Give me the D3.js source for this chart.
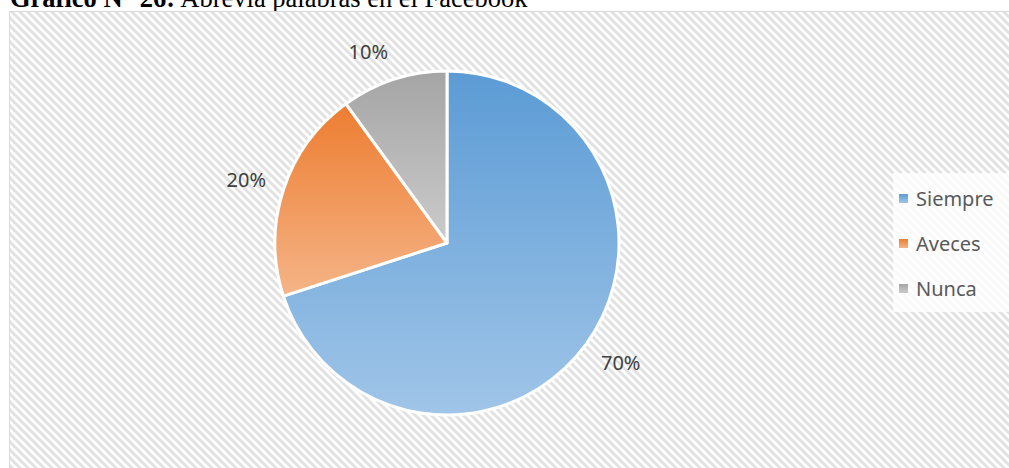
<!DOCTYPE html>
<html>
<head>
<meta charset="utf-8">
<script src="https://cdn.jsdelivr.net/npm/d3@7"></script>
<style>
  html, body { margin: 0; padding: 0; background: #fff; overflow: hidden; }
  svg { display: block; }
</style>
</head>
<body>
<svg width="1009" height="468"></svg>
<script>
// data
const categories = ["Siempre", "Aveces", "Nunca"]
const values = [70, 20, 10]
const labels = ["70%", "20%", "10%"]
const colorTop = ["#5b9bd5", "#ed7d31", "#a5a5a5"]
const colorBottom = ["#a0c5e8", "#f5b487", "#cbcbcb"]

const svg = d3.select("svg"),
    width = +svg.attr("width"),
    height = +svg.attr("height")

const defs = svg.append("defs")

// hatched chart background
const pat = defs.append("pattern")
    .attr("id", "hatch")
    .attr("patternUnits", "userSpaceOnUse")
    .attr("width", 8)
    .attr("height", 8)
pat.append("rect").attr("width", 8).attr("height", 8).attr("fill", "#fff")
pat.append("path")
    .attr("d", "M0,0 L8,8 M-2,6 L2,10 M6,-2 L10,2")
    .attr("stroke", "#e2e2e2")
    .attr("stroke-width", 3)

categories.forEach((c, i) => {
  const g = defs.append("linearGradient")
      .attr("id", "grad" + i)
      .attr("x1", 0).attr("y1", 0).attr("x2", 0).attr("y2", 1)
  g.append("stop").attr("offset", "0%").attr("stop-color", colorTop[i])
  g.append("stop").attr("offset", "100%").attr("stop-color", colorBottom[i])
})

// title, cut off at the top like in the source page
const title = svg.append("text")
    .attr("x", 10)
    .attr("y", 7)
    .attr("font-family", "Liberation Serif, Times New Roman, serif")
    .attr("font-size", 26.5)
    .attr("fill", "#000")
title.append("tspan").attr("font-weight", "bold").text("Gráfico N° 26:")
title.append("tspan").text(" Abrevia palabras en el Facebook")

// chart area
svg.append("rect")
    .attr("x", 9.5)
    .attr("y", 11.5)
    .attr("width", width + 10)
    .attr("height", height + 10)
    .attr("fill", "url(#hatch)")
    .attr("stroke", "#d9d9d9")
    .attr("stroke-width", 1)

const cx = 447, cy = 243, radius = 172

const pie = d3.pie().sort(null).value(d => d)
const arcs = pie(values)
const arc = d3.arc().innerRadius(0).outerRadius(radius)

const g = svg.append("g").attr("transform", "translate(" + cx + "," + cy + ")")

g.selectAll(".slice")
    .data(arcs)
    .enter()
    .append("path")
    .attr("class", "slice")
    .attr("d", arc)
    .attr("fill", (d, i) => "url(#grad" + i + ")")
    .attr("stroke", "#fff")
    .attr("stroke-width", 3)
    .attr("stroke-linejoin", "round")

// labels placed outside, box pushed away from the pie edge
const labelArc = d3.arc().innerRadius(radius + 18).outerRadius(radius + 18)
const clamp = v => Math.max(-1, Math.min(1, v))
const lw = 40, lh = 20

g.selectAll(".lbl")
    .data(arcs)
    .enter()
    .append("text")
    .attr("class", "lbl")
    .attr("x", d => {
      const a = (d.startAngle + d.endAngle) / 2
      return labelArc.centroid(d)[0] + lw / 2 * clamp(Math.sin(a) * 4)
    })
    .attr("y", d => {
      const a = (d.startAngle + d.endAngle) / 2
      return labelArc.centroid(d)[1] + lh / 2 * clamp(-Math.cos(a) * 1.5)
    })
    .attr("dy", "0.35em")
    .attr("text-anchor", "middle")
    .attr("font-family", "Noto Sans, Open Sans, sans-serif")
    .attr("font-size", 20)
    .attr("fill", "#404040")
    .text((d, i) => labels[i])

// legend
svg.append("rect")
    .attr("x", 893)
    .attr("y", 173)
    .attr("width", 120)
    .attr("height", 139)
    .attr("fill", "#fff")
    .attr("fill-opacity", 0.8)

const legend = svg.append("g")
const ly = d3.scalePoint().domain(categories).range([206, 296])

const item = legend.selectAll(".item")
    .data(categories)
    .enter()
    .append("g")
    .attr("class", "item")
    .attr("transform", d => "translate(0," + ly(d) + ")")

item.append("rect")
    .attr("x", 899)
    .attr("y", -12)
    .attr("width", 9)
    .attr("height", 9)
    .attr("fill", (d, i) => "url(#grad" + i + ")")

item.append("text")
    .attr("x", 916)
    .attr("y", 0)
    .attr("font-family", "Noto Sans, Open Sans, sans-serif")
    .attr("font-size", 20)
    .attr("fill", "#595959")
    .text(d => d)
</script>
</body>
</html>
